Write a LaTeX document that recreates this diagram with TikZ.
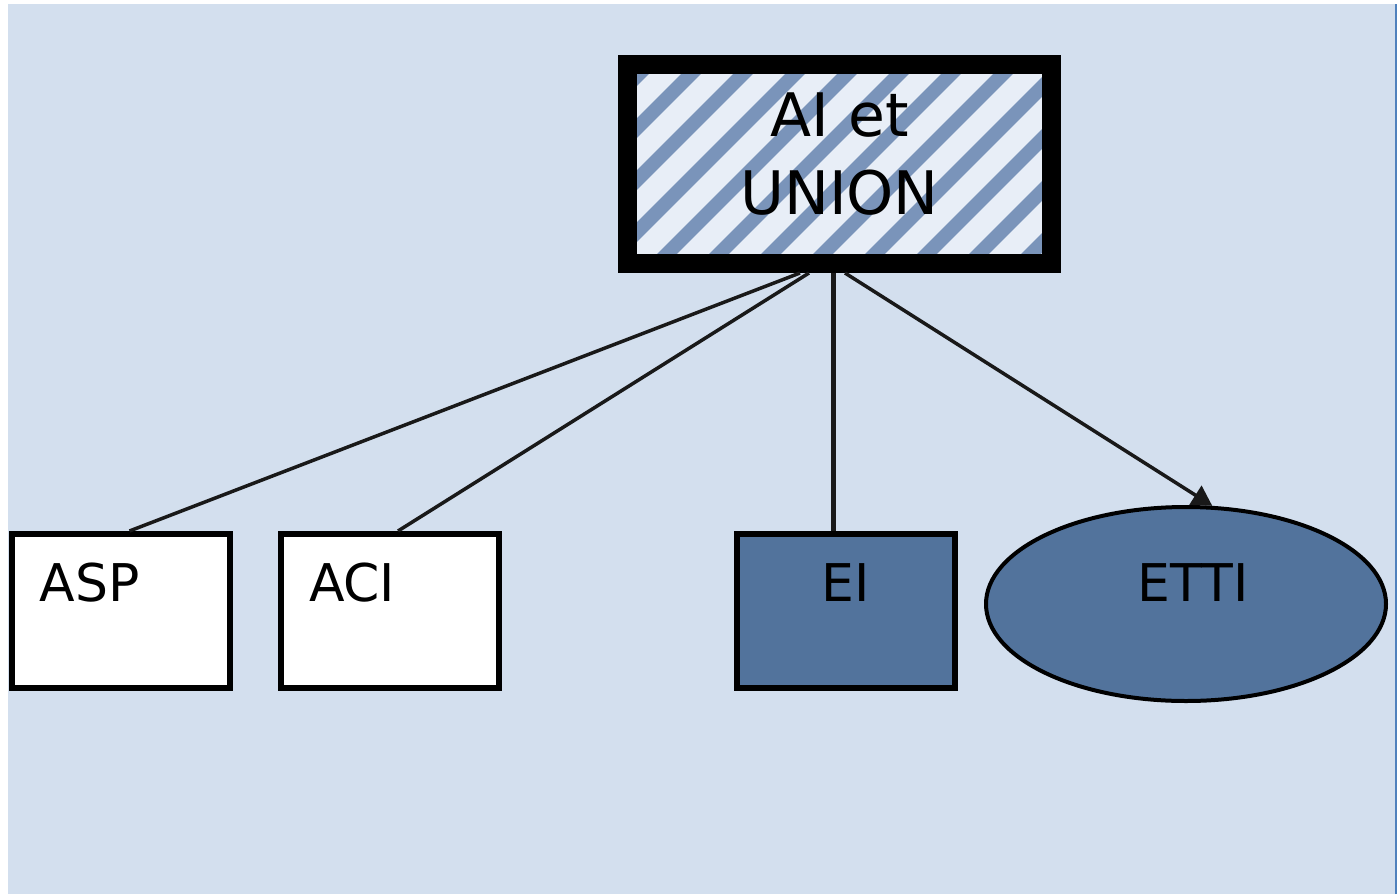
\documentclass[tikz,border=0pt]{standalone}
\usepackage{xcolor}
\usepackage{fontspec}
\setmainfont{DejaVu Sans}
\usepackage{tikz}
\usetikzlibrary{shapes.geometric,arrows.meta}
\definecolor{paleblue}{RGB}{211, 223, 238}
\definecolor{hatchblue}{RGB}{122, 148, 186}
\definecolor{hatchwhite}{RGB}{232, 238, 247}
\definecolor{slateblue}{RGB}{82, 115, 156}
\definecolor{edgeblue}{RGB}{79, 129, 189}

\begin{document}
\begin{tikzpicture}[x=1pt, y=-1pt,
         whitebox/.style = {draw=black, line width=6pt, fill=white, text width=162pt, align=left, inner xsep=28pt, inner ysep=0pt, text height=67pt, text depth=87pt, font=\fontsize{52}{62}\selectfont},
          bluebox/.style = {draw=black, line width=6pt, fill=slateblue, minimum width=218pt, inner sep=0pt, text height=67pt, text depth=87pt, font=\fontsize{52}{62}\selectfont},
         blueoval/.style = {ellipse, draw=black, line width=4pt, fill=slateblue, minimum width=400pt, minimum height=194pt, inner sep=0pt, text height=40pt, text depth=46pt, font=\fontsize{52}{62}\selectfont},
         hatchbox/.style = {draw=black, line width=19pt, fill=hatchwhite, minimum width=424pt, minimum height=199pt, inner sep=0pt, align=center, font=\fontsize{60}{78}\selectfont,
                            path picture={\foreach \k in {0,...,14} \draw[hatchblue, line width=14pt] ([xshift=\k*52pt-230pt]path picture bounding box.south west) -- ++(260pt,260pt);}},
             link/.style = {draw=black!90, line width=3.5pt}]
    \useasboundingbox (0,0) rectangle (1397,894);
    \fill[paleblue] (8,4) rectangle (1397,894);
    \fill[edgeblue] (1395,4) rectangle (1397,894);

    \node[hatchbox] (union) at (839.5,164) {AI et\\UNION\rule[-20pt]{0pt}{0pt}};
    \node[whitebox] (asp) at (120.5,611) {ASP};
    \node[whitebox] (aci) at (390,611) {ACI};
    \node[bluebox]  (ei) at (846,611) {EI};
    \node[blueoval] (etti) at (1186,604) {\hspace*{14pt}ETTI};

    \draw[link] ([xshift=-39.5pt]union.south) -- ([xshift=9pt]asp.north);
    \draw[link] ([xshift=-30.5pt]union.south) -- ([xshift=8pt]aci.north);
    \draw[link, line width=5pt] ([xshift=-6.5pt]union.south) -- ([xshift=-6.5pt]union.south |- ei.north);
    \draw[link, -{Triangle[length=20pt,width=22pt]}] ([xshift=5.5pt]union.south) -- (etti.75);
\end{tikzpicture}
\end{document}
